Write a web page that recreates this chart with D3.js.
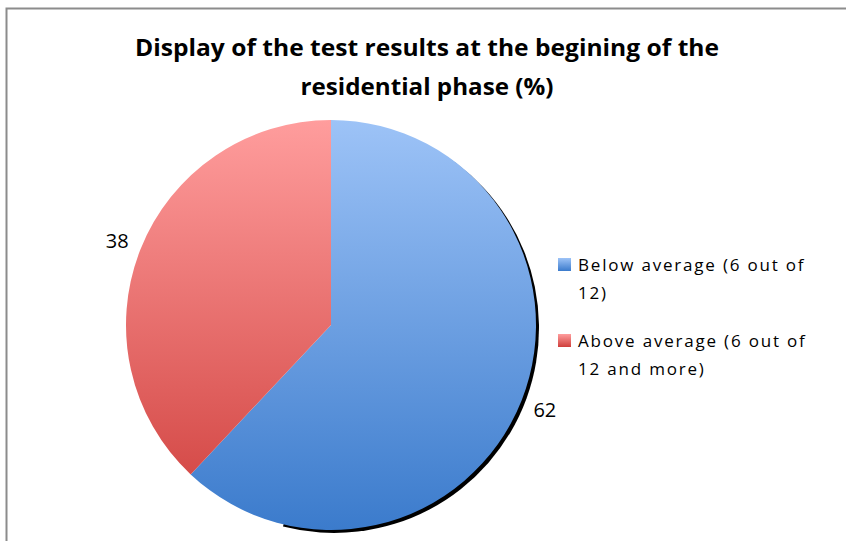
<!DOCTYPE html>
<html>
<head>
<meta charset="utf-8">
<script src="https://cdn.jsdelivr.net/npm/d3@7"></script>
<style>
  body { margin: 0; background: #fff; }
  text { font-family: "Open Sans", "DejaVu Sans", sans-serif; fill: #000; }
</style>
</head>
<body>
<svg id="chart" width="846" height="541"></svg>
<script>
// chart data
var categories = ['Below average (6 out of 12)', 'Above average (6 out of 12 and more)'];
var values = [62, 38];
var legendLines = [['Below average (6 out of', '12)'], ['Above average (6 out of', '12 and more)']];
var titleLines = ['Display of the test results at the begining of the', 'residential phase (%)'];

var svg = d3.select('#chart');
var width = 846, height = 541;
var cx = 331, cy = 325, radius = 205;

// Gradient colours for each slice (top -> bottom)
var gradients = [
    { id: 'gBlue', top: '#9dc3f7', bottom: '#3b7bcc' },
    { id: 'gRed', top: '#ff9d9d', bottom: '#cf3f3c' }
];

var defs = svg.append('defs');
gradients.forEach(function (g) {
    var lg = defs.append('linearGradient')
        .attr('id', g.id)
        .attr('gradientUnits', 'userSpaceOnUse')
        .attr('x1', 0).attr('y1', -radius)
        .attr('x2', 0).attr('y2', radius);
    lg.append('stop').attr('offset', '0%').attr('stop-color', g.top);
    lg.append('stop').attr('offset', '100%').attr('stop-color', g.bottom);
});

// Outer frame
svg.append('rect')
    .attr('x', 6.5).attr('y', 8.5)
    .attr('width', width).attr('height', height)
    .attr('fill', 'none')
    .attr('stroke', '#8c8c8c')
    .attr('stroke-width', 2);

// Title
svg.append('g').selectAll('text')
    .data(titleLines)
    .enter().append('text')
    .attr('x', 427)
    .attr('y', function (d, i) { return 56 + i * 39; })
    .attr('text-anchor', 'middle')
    .attr('font-size', 23)
    .attr('font-weight', 'bold')
    .attr('textLength', function (d, i) { return i === 0 ? 584 : 253; })
    .attr('lengthAdjust', 'spacingAndGlyphs')
    .text(function (d) { return d; });

var pie = d3.pie().sort(null).value(function (d) { return d; });
var arcs = pie(values);
var arc = d3.arc().innerRadius(0).outerRadius(radius);

var g = svg.append('g').attr('transform', 'translate(' + cx + ',' + cy + ')');

// Dark shadow along lower right rim
g.append('path')
    .attr('d', d3.arc().innerRadius(0).outerRadius(radius)
        .startAngle(0.45).endAngle(Math.PI * 1.08)())
    .attr('transform', 'translate(3,3)')
    .attr('fill', '#000');

g.selectAll('path.slice')
    .data(arcs)
    .enter().append('path')
    .attr('class', 'slice')
    .attr('d', arc)
    .attr('fill', function (d, i) { return 'url(#' + gradients[i].id + ')'; });

// Value labels outside the pie
var labelArc = d3.arc().innerRadius(radius + 25).outerRadius(radius + 25);
g.selectAll('text.val')
    .data(arcs)
    .enter().append('text')
    .attr('class', 'val')
    .attr('x', function (d) { return labelArc.centroid(d)[0]; })
    .attr('y', function (d) { return labelArc.centroid(d)[1]; })
    .attr('dy', '0.36em')
    .attr('text-anchor', 'middle')
    .attr('font-size', 20)
    .text(function (d) { return d.data; });

// Legend
var legend = svg.append('g');
var legendY = [258, 334];
legendLines.forEach(function (lines, i) {
    var lg = defs.append('linearGradient')
        .attr('id', 'lg' + i)
        .attr('x1', 0).attr('y1', 0).attr('x2', 0).attr('y2', 1);
    lg.append('stop').attr('offset', '0%').attr('stop-color', gradients[i].top);
    lg.append('stop').attr('offset', '100%').attr('stop-color', gradients[i].bottom);

    legend.append('rect')
        .attr('x', 558).attr('y', legendY[i])
        .attr('width', 13).attr('height', 13)
        .attr('fill', 'url(#lg' + i + ')');

    legend.selectAll(null)
        .data(lines)
        .enter().append('text')
        .attr('x', 578)
        .attr('y', function (d, j) { return legendY[i] + 13 + j * 28; })
        .attr('font-size', 17)
        .attr('letter-spacing', 1.8)
        .text(function (d) { return d; });
});
</script>
</body>
</html>
